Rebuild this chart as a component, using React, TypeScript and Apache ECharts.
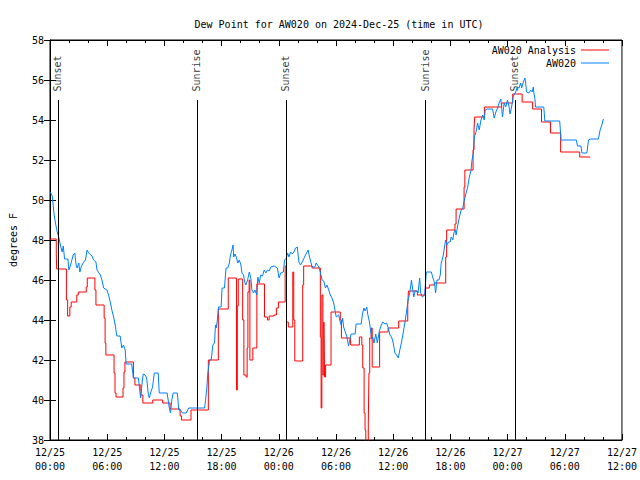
import React, { useEffect, useRef } from "react";
import * as echarts from "echarts";

// Hours since 2024-12-25 00:00 UTC
const obsHours = [
  0.0, 0.24, 0.42, 0.59, 0.76, 0.94, 1.11, 1.28, 1.39, 1.53, 1.88, 1.98, 2.16, 2.43, 2.6, 2.74, 2.84, 3.02, 3.13, 3.3,
  3.54, 3.72, 3.89, 4.06, 4.41, 4.58, 4.82, 4.93, 5.28, 5.45, 5.63, 5.97, 6.15, 6.32, 6.49, 6.67, 6.84, 7.01, 7.36, 7.53,
  7.71, 7.89, 7.99, 8.57, 8.75, 9.27, 9.51, 9.69, 9.79, 9.97, 10.14, 10.31, 10.42, 10.55, 10.76, 10.94, 11.35, 11.46, 12.29, 12.5,
  12.64, 12.78, 12.92, 13.36, 13.51, 13.68, 13.89, 14.3, 14.55, 16.22, 16.32, 16.46, 16.56, 16.74, 16.91, 17.08, 17.26, 17.36, 17.43, 17.53,
  17.68, 17.95, 18.05, 18.3, 18.47, 18.65, 18.82, 18.93, 19.09, 19.2, 19.27, 19.41, 19.58, 19.69, 19.86, 20.03, 20.14, 20.31, 20.42, 20.55,
  20.73, 20.91, 21.07, 21.18, 21.35, 21.49, 21.7, 21.8, 21.95, 22.11, 22.29, 22.47, 22.64, 22.81, 22.99, 23.16, 23.51, 23.85, 24.03, 24.2,
  24.48, 24.61, 24.79, 24.93, 25.07, 25.24, 25.42, 25.59, 25.76, 25.94, 26.11, 26.28, 26.46, 26.8, 27.08, 27.22, 27.5, 27.78, 27.92, 28.2,
  28.36, 28.54, 28.72, 28.89, 29.06, 29.24, 29.41, 29.58, 29.76, 29.93, 30.03, 30.28, 30.45, 30.55, 30.7, 30.8, 30.91, 31.15, 31.32, 31.49,
  31.59, 32.01, 32.11, 32.64, 32.78, 32.92, 33.05, 33.23, 33.33, 33.51, 33.65, 33.75, 33.85, 33.99, 34.17, 34.34, 34.55, 34.72, 34.9, 35.14,
  35.31, 35.49, 35.66, 35.83, 36.01, 36.18, 36.35, 36.53, 36.7, 36.88, 37.05, 37.22, 37.4, 37.57, 37.74, 37.92, 38.16, 38.33, 38.61, 38.78,
  38.89, 39.06, 39.3, 39.48, 40.0, 40.18, 40.34, 40.45, 40.59, 40.8, 40.94, 41.04, 41.22, 41.39, 41.49, 41.64, 41.8, 41.98, 42.08, 42.26,
  42.36, 42.53, 42.6, 42.78, 42.95, 43.13, 43.3, 43.47, 43.65, 43.82, 43.99, 44.17, 44.27, 44.41, 44.51, 44.69, 44.86, 45.03, 45.21, 45.39,
  45.55, 45.66, 45.9, 46.43, 46.6, 46.77, 46.95, 47.11, 47.29, 47.47, 47.64, 47.81, 47.99, 48.16, 48.26, 48.44, 48.61, 48.85, 49.03, 49.2,
  49.38, 49.48, 49.66, 49.82, 49.9, 50.0, 50.24, 50.42, 50.59, 50.7, 50.76, 50.86, 50.94, 51.8, 51.91, 53.47, 53.61, 55.21, 55.34, 55.7,
  55.8, 56.32, 56.49, 56.67, 57.53, 57.71, 57.89, 58.05,
];
const obsDew = [
  50.4, 50.2, 49.3, 48.8, 48.4, 48.1, 47.7, 47.4, 47.7, 47.05, 47.05, 46.5, 46.75, 47.25, 47.35, 46.75, 46.6, 46.85, 46.4, 46.7,
  46.9, 47.0, 47.5, 47.35, 47.2, 47.0, 46.9, 46.5, 46.25, 46.0, 45.6, 45.5, 45.25, 44.9, 44.5, 44.15, 43.75, 43.2, 43.2, 42.6,
  42.75, 42.5, 41.8, 41.8, 41.1, 41.1, 40.1, 41.0, 41.3, 41.25, 41.1, 40.3, 40.1, 40.35, 40.65, 41.35, 41.35, 40.35, 40.35, 39.65,
  39.35, 40.0, 40.35, 40.35, 39.5, 39.5, 39.35, 39.35, 39.6, 39.6, 40.0, 40.65, 41.35, 42.0, 42.0, 42.75, 42.85, 43.75, 43.6, 43.9,
  44.65, 44.65, 45.6, 45.6, 46.6, 46.6, 46.85, 47.25, 47.5, 47.75, 47.15, 47.3, 47.1, 46.85, 47.0, 46.75, 46.35, 46.25, 45.9, 45.75,
  46.0, 46.4, 46.1, 45.5, 45.35, 45.5, 45.25, 46.15, 45.85, 46.25, 46.2, 46.5, 46.35, 46.5, 46.45, 46.65, 46.7, 46.6, 46.1, 46.35,
  46.4, 47.0, 47.1, 47.35, 47.15, 47.4, 47.3, 47.4, 47.6, 47.65, 46.9, 46.75, 46.9, 47.25, 47.5, 47.15, 46.65, 46.65, 46.85, 46.65,
  46.4, 46.0, 45.95, 45.6, 45.75, 45.5, 45.25, 45.1, 44.85, 44.4, 44.15, 44.25, 43.9, 43.75, 44.1, 43.65, 43.5, 43.15, 42.7, 43.1,
  43.3, 43.3, 43.8, 43.8, 44.3, 44.6, 44.45, 44.65, 44.3, 43.9, 43.4, 43.05, 43.15, 42.85, 43.3, 42.85, 43.45, 43.7, 43.9, 43.8,
  43.85, 43.6, 43.25, 43.15, 42.85, 42.35, 42.25, 42.1, 42.5, 42.9, 43.35, 43.85, 44.4, 45.0, 45.35, 46.0, 45.15, 45.5, 45.35, 46.1,
  45.35, 45.15, 45.25, 46.4, 46.4, 46.1, 45.85, 45.35, 46.0, 46.0, 46.25, 46.85, 47.15, 47.65, 48.0, 47.75, 47.9, 47.9, 48.15, 48.0,
  48.35, 48.5, 48.25, 48.75, 49.15, 49.5, 49.6, 50.0, 50.35, 50.65, 51.15, 51.5, 52.0, 52.35, 53.15, 53.4, 53.85, 53.5, 54.0, 54.25,
  54.0, 54.5, 54.55, 54.55, 54.1, 54.4, 54.6, 54.85, 55.05, 54.15, 54.85, 54.65, 55.0, 54.65, 54.3, 54.7, 55.2, 55.4, 55.65, 55.6,
  55.85, 55.6, 55.9, 56.1, 55.85, 55.4, 55.35, 55.5, 55.4, 55.65, 55.35, 55.1, 54.65, 54.65, 53.95, 53.95, 53.0, 53.0, 52.7, 52.7,
  52.35, 52.35, 53.0, 53.05, 53.05, 53.5, 53.75, 54.05,
];

// Analysis: each value holds until the next time
const anaHours = [
  0, 0.66, 0.7, 1.72, 1.85, 2.08, 2.22, 2.81, 2.97, 3.8, 3.91, 4.71, 4.82, 5.68, 5.78, 5.86, 6.72, 6.82, 6.93, 7.66,
  7.76, 7.86, 8.75, 8.91, 9.53, 9.74, 10.78, 11.82, 12.6, 13.65, 13.8, 14.79, 16.61, 17.66, 18.7, 19.56, 19.65, 19.75, 20.21, 20.34,
  20.57, 20.68, 20.76, 20.89, 20.97, 21.28, 21.7, 22.5, 22.81, 22.99, 23.49, 23.75, 23.96, 24.67, 24.81, 25.0, 25.47, 25.57, 25.68, 26.51,
  26.61, 27.5, 28.36, 28.44, 28.52, 28.63, 28.73, 28.8, 28.91, 29.48, 30.45, 30.57, 31.54, 32.45, 32.71, 32.81, 32.95, 33.05, 33.13, 33.39,
  33.46, 33.54, 33.7, 33.8, 34.58, 35.47, 36.58, 37.53, 37.6, 38.54, 39.38, 39.79, 40.31, 41.51, 41.61, 42.48, 42.6, 43.44, 43.52, 44.38,
  44.48, 44.55, 45.57, 47.38, 48.54, 49.53, 50.63, 51.56, 52.5, 53.57, 55.57, 56.67,
];
const anaDew = [
  48.05, 47.3, 46.55, 45.0, 44.2, 44.65, 44.9, 45.25, 45.4, 45.65, 46.1, 45.5, 44.75, 44.1, 42.85, 42.25, 41.35, 40.35, 40.15, 40.6,
  41.4, 41.9, 41.1, 40.75, 40.25, 39.85, 40.0, 39.85, 39.55, 39.2, 39.0, 39.5, 42.0, 44.55, 46.1, 40.5, 44.7, 46.05, 44.0, 41.25,
  41.15, 42.6, 45.4, 46.0, 42.0, 42.6, 45.8, 44.15, 44.0, 44.2, 44.25, 44.6, 44.9, 46.7, 43.9, 43.65, 46.4, 44.0, 41.95, 45.75,
  46.7, 46.6, 43.15, 39.6, 45.25, 41.25, 43.9, 41.15, 41.75, 44.4, 44.0, 43.1, 42.75, 43.15, 42.75, 41.6, 39.35, 38.5, 37.5, 38.85,
  41.35, 43.1, 43.6, 41.65, 43.4, 43.6, 43.95, 44.75, 45.45, 45.25, 45.6, 45.75, 45.85, 47.15, 48.5, 48.8, 49.55, 50.65, 51.5, 52.5,
  53.5, 54.15, 54.65, 54.85, 55.3, 54.9, 54.55, 53.9, 53.35, 52.4, 52.15, 52.15,
];

const sunEvents = ["Sunset", "Sunrise", "Sunset", "Sunrise", "Sunset"];
const sunHours = [0.85, 15.43, 24.8, 39.4, 48.8];
const sunLineTop = 55;

const xTickLabels = [
  "12/25\n00:00", "12/25\n06:00", "12/25\n12:00", "12/25\n18:00", "12/26\n00:00", "12/26\n06:00",
  "12/26\n12:00", "12/26\n18:00", "12/27\n00:00", "12/27\n06:00", "12/27\n12:00",
];

const FONT = "'DejaVu Sans Mono', monospace";

export default function App() {
  const ref = useRef<HTMLDivElement>(null);
  useEffect(() => {
    if (!ref.current) return;
    const chart = echarts.init(ref.current, undefined, { renderer: "svg" });
    const txt = { fontFamily: FONT, fontSize: 10, color: "#000" };
    const baseX = {
      type: "value",
      min: 0,
      max: 60,
      interval: 6,
      axisLine: { show: true, lineStyle: { color: "#000", width: 1 } },
      axisTick: { show: true, inside: true, length: 6, lineStyle: { color: "#000" } },
      minorTick: { show: true, splitNumber: 3, length: 3, lineStyle: { color: "#000" } },
      splitLine: { show: false },
    };
    const baseY = {
      type: "value",
      min: 38,
      max: 58,
      interval: 2,
      axisLine: { show: true, lineStyle: { color: "#000", width: 1 } },
      axisTick: { show: true, inside: true, length: 6, lineStyle: { color: "#000" } },
      splitLine: { show: false },
    };
    chart.setOption({
      animation: false,
      backgroundColor: "#fff",
      title: {
        text: "Dew Point for AW020 on 2024-Dec-25 (time in UTC)",
        left: 334,
        top: 14,
        textAlign: "center",
        textStyle: { ...txt, fontWeight: "normal" },
      },
      legend: {
        data: ["AW020 Analysis", "AW020"],
        orient: "vertical",
        right: 31,
        top: 44,
        padding: 0,
        align: "right",
        icon: "rect",
        itemWidth: 28,
        itemHeight: 1,
        itemGap: 1,
        textStyle: { ...txt, lineHeight: 12 },
      },
      grid: { left: 46, right: 18, top: 40, bottom: 40, show: true, borderColor: "#000", borderWidth: 1 },
      xAxis: [
        {
          ...baseX,
          position: "bottom",
          axisLabel: {
            ...txt,
            lineHeight: 14,
            margin: 5,
            formatter: (v: number) => xTickLabels[Math.round(v / 6)] ?? "",
          },
        },
        { ...baseX, position: "top", axisLabel: { show: false } },
      ],
      yAxis: [
        {
          ...baseY,
          position: "left",
          name: "degrees F",
          nameLocation: "middle",
          nameGap: 32,
          nameRotate: 90,
          nameTextStyle: txt,
          axisLabel: { ...txt, margin: 6 },
        },
        { ...baseY, position: "right", axisLabel: { show: false } },
      ],
      series: [
        {
          name: "AW020 Analysis",
          type: "line",
          step: "end",
          symbol: "none",
          data: anaHours.map((h, i) => [h, anaDew[i]]),
          lineStyle: { color: "#ff0000", width: 1 },
          itemStyle: { color: "#ff0000" },
        },
        {
          name: "AW020",
          type: "line",
          symbol: "none",
          data: obsHours.map((h, i) => [h, obsDew[i]]),
          lineStyle: { color: "#0080ff", width: 1 },
          itemStyle: { color: "#0080ff" },
        },
        {
          name: "sun",
          type: "scatter",
          symbolSize: 1,
          itemStyle: { color: "transparent" },
          data: sunHours.map((h, i) => ({ value: [h, sunLineTop], name: sunEvents[i] })),
          label: {
            show: true,
            formatter: "{b}",
            rotate: 90,
            position: [0, -8],
            align: "left",
            verticalAlign: "middle",
            ...txt,
          },
          markLine: {
            silent: true,
            symbol: ["none", "none"],
            label: { show: false },
            lineStyle: { color: "#000", width: 1, type: "solid" },
            data: sunHours.map((h) => [{ coord: [h, sunLineTop] }, { coord: [h, 38] }]),
          },
        },
      ],
    });
    return () => chart.dispose();
  }, []);
  return (
    <div
      ref={ref}
      style={{ position: "absolute", left: 0, top: 0, width: 640, height: 480 }}
    />
  );
}
